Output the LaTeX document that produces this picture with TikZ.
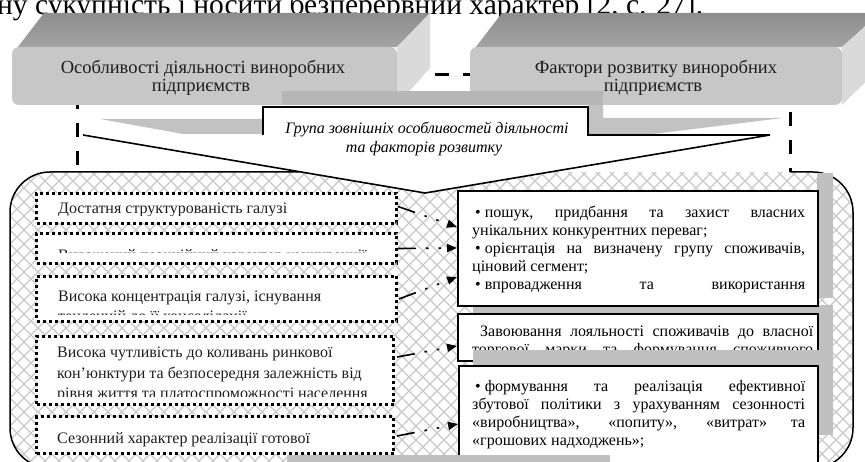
\documentclass[tikz,border=0pt]{standalone}
\usepackage{fontspec}
\setmainfont{Liberation Serif}
\usetikzlibrary{arrows.meta,calc}
\definecolor{faceG}{HTML}{C7C7C7}
\definecolor{topD}{HTML}{8E8E8E}
\definecolor{topL}{HTML}{A6A6A6}
\definecolor{sideG}{HTML}{DADADA}
\definecolor{bandG}{HTML}{B6B6B6}
\definecolor{wedgeG}{HTML}{C2C2C2}
\definecolor{shadG}{HTML}{C0C0C0}
\definecolor{hatchG}{HTML}{C8C8C8}
\definecolor{txtG}{HTML}{1E1E1E}
\begin{document}
\begin{tikzpicture}[x=1pt,y=-1pt]
\tikzset{
  lbl/.style={anchor=base, inner sep=0, text=txtG, font=\fontsize{18.5}{20}\selectfont},
  calltxt/.style={anchor=base, inner sep=0, font=\fontsize{16}{18}\selectfont\itshape},
  ltxt/.style={anchor=base west, inner sep=0, text=txtG, font=\fontsize{16}{18}\selectfont},
  rtxt/.style={anchor=base west, inner sep=0, font=\fontsize{16}{18}\selectfont},
  dotbox/.style={draw, line width=3pt, dash pattern=on 3pt off 3pt, fill=white, anchor=north west, inner sep=0},
  solbox/.style={draw, line width=2pt, fill=white, anchor=north west, inner sep=0},
  conn/.style={line width=1.6pt, dash pattern=on 18pt off 10pt on 2.5pt off 10pt on 2.5pt off 30pt, -{Triangle[length=10pt,width=8pt]}},
  dashln/.style={line width=3pt, dash pattern=on 14pt off 14pt, dash phase=21pt},
  hatch/.style={hatchG, line width=1.3pt}
}
\useasboundingbox (0,0) rectangle (865,462);
\clip (0,0) rectangle (865,462);
\fill[white] (0,0) rectangle (865,462);

% clipped text line at the top
\node[anchor=base west, inner sep=0, font=\fontsize{29.5}{31}\selectfont] (toptext) at (-3,15) {ну сукупність і носити безперервний характер [2, с. 27].};

% hatched container
\begin{scope}
  \clip[rounded corners=40pt] (10,172) rectangle (853,468);
  \foreach \k in {-480,-466,...,1360} {
    \draw[hatch] (\k,160) -- ++(320,320);
    \draw[hatch] (\k,160) -- ++(-320,320);
  }
\end{scope}
\draw[line width=1.5pt, rounded corners=40pt] (790,172) -- (853,172) -- (853,468) -- (10,468) -- (10,172) -- (299,172);

% dashed frame behind the headers
\draw[dashln] (77,172) -- (77,75) -- (790,75) -- (790,172);

% left 3D header
\shade[top color=topD, bottom color=topL] (14,52) -- (44,13) -- (430,13) -- (397,47) -- cycle;
\fill[sideG] (397,47) -- (430,13) -- (430,68) -- (397,105) -- cycle;
\fill[faceG, rounded corners=7pt] (12,47) rectangle (397,105);
% right 3D header
\shade[top color=topD, bottom color=topL] (472,52) -- (502,13) -- (880,13) -- (842,47) -- cycle;
\fill[sideG] (842,47) -- (880,13) -- (880,68) -- (842,105) -- cycle;
\fill[faceG, rounded corners=7pt] (470,47) rectangle (842,105);
% gray band
\fill[bandG] (282,91) rectangle (603,105);

\node[lbl] (hl1) at (203,74) {Особливості діяльності виноробних};
\node[lbl] (hl2) at (201,92) {підприємств};
\node[lbl] (hr1) at (656,74) {Фактори розвитку виноробних};
\node[lbl] (hr2) at (653,92) {підприємств};

% gray wedges
\fill[wedgeG] (100,119) -- (263,119) -- (263,134) -- (183,134) -- cycle;
\fill[wedgeG] (588,105) -- (603,105) -- (603,118) -- (783,118) -- (645,135) -- (588,135) -- cycle;

% callout
\fill[white] (263,107) -- (588,107) -- (588,135) -- (770,135) -- (425,193) -- (83,135) -- (263,135) -- cycle;
\draw[line width=1.6pt, line join=miter] (263,135) -- (263,107) -- (588,107) -- (588,135) -- (770,135) -- (425,193) -- (83,135);
\node[calltxt] (c1) at (427,134) {Група зовнішніх особливостей діяльності};
\node[calltxt] (c2) at (424,153) {та факторів розвитку};

% gray backdrops of the right boxes
\fill[shadG] (817,173) rectangle (833,298);
\fill[shadG] (473,305) rectangle (833,352);

% right box 1
\node[solbox, minimum width=360pt, minimum height=115pt] (R1) at (457,190) {};
\begin{scope}
  \clip (459,192) rectangle (815,303);
  \node[rtxt] (r1a) at (475,218) {\makebox[330pt][s]{\mbox{•\ пошук,} придбання та захист власних}};
  \node[rtxt] (r1b) at (472,236) {унікальних конкурентних переваг;};
  \node[rtxt] (r1c) at (475,254) {\makebox[330pt][s]{\mbox{•\ орієнтація} на визначену групу споживачів,}};
  \node[rtxt] (r1d) at (472,272) {ціновий сегмент;};
  \node[rtxt] (r1e) at (475,290) {\makebox[330pt][s]{\mbox{•\ впровадження} та використання}};
\end{scope}

% right box 2
\node[solbox, minimum width=360pt, minimum height=47pt] (R2) at (457,313) {};
\begin{scope}
  \clip (459,315) rectangle (815,351);
  \node[rtxt] (r2a) at (480,337) {\makebox[333pt][s]{Завоювання лояльності споживачів до власної}};
  \node[rtxt] (r2b) at (472,355) {\makebox[341pt][s]{торгової марки та формування споживчого}};
\end{scope}
\fill[shadG] (473,350) rectangle (833,435);

% right box 3
\node[solbox, minimum width=359pt, minimum height=120pt] (R3) at (458,365) {};
\begin{scope}
  \clip (460,367) rectangle (815,462);
  \node[rtxt] (r3a) at (475,391) {\makebox[330pt][s]{\mbox{•\ формування} та реалізація ефективної}};
  \node[rtxt] (r3b) at (472,409) {\makebox[333pt][s]{збутової політики з урахуванням сезонності}};
  \node[rtxt] (r3c) at (472,427) {\makebox[333pt][s]{«виробництва», «попиту», «витрат» та}};
  \node[rtxt] (r3d) at (472,445) {«грошових надходжень»;};
\end{scope}

% left dotted boxes
\node[dotbox, minimum width=360pt, minimum height=30pt] (L1) at (35,192) {};
\begin{scope}
  \clip (37,194) rectangle (393,216);
  \node[ltxt] (l1a) at (58,214) {Достатня структурованість галузі};
\end{scope}
\node[dotbox, minimum width=360pt, minimum height=30pt] (L2) at (35,232) {};
\begin{scope}
  \clip (37,234) rectangle (393,253);
  \node[ltxt] (l2a) at (58,261) {Виражений позиційний характер конкуренції};
\end{scope}
\node[dotbox, minimum width=360pt, minimum height=45pt] (L3) at (35,275) {};
\begin{scope}
  \clip (37,277) rectangle (393,315);
  \node[ltxt] (l3a) at (58,302) {Висока концентрація галузі, існування};
  \node[ltxt] (l3b) at (58,322) {тенденцій до її консолідації};
\end{scope}
\node[dotbox, minimum width=357pt, minimum height=68pt] (L4) at (35,335) {};
\begin{scope}
  \clip (37,337) rectangle (390,396);
  \node[ltxt] (l4a) at (57,358) {Висока чутливість до коливань ринкової};
  \node[ltxt] (l4b) at (57,378) {кон’юнктури та безпосередня залежність від};
  \node[ltxt] (l4c) at (57,398) {рівня життя та платоспроможності населення};
\end{scope}
\node[dotbox, minimum width=357pt, minimum height=37pt] (L5) at (35,415) {};
\begin{scope}
  \clip (37,417) rectangle (390,447);
  \node[ltxt] (l5a) at (57,443) {Сезонний характер реалізації готової};
\end{scope}

% connectors
\draw[conn] ($(L1.east)+(0,-2)$) -- ($(R1.north west)+(0,37)$);
\draw[conn] (L2.east) -- ($(R1.north west)+(0,58)$);
\draw[conn] ($(L3.east)+(1,0)$) -- ($(R1.north west)+(0,87)$);
\draw[conn] ($(L4.north east)+(2,22)$) -- ($(R2.north west)+(0,33)$);
\draw[conn] ($(L5.east)+(2,1)$) -- ($(R3.north west)+(0,59)$);

% bottom gray strip
\fill[shadG] (287,455) rectangle (610,462);
\end{tikzpicture}
\end{document}
